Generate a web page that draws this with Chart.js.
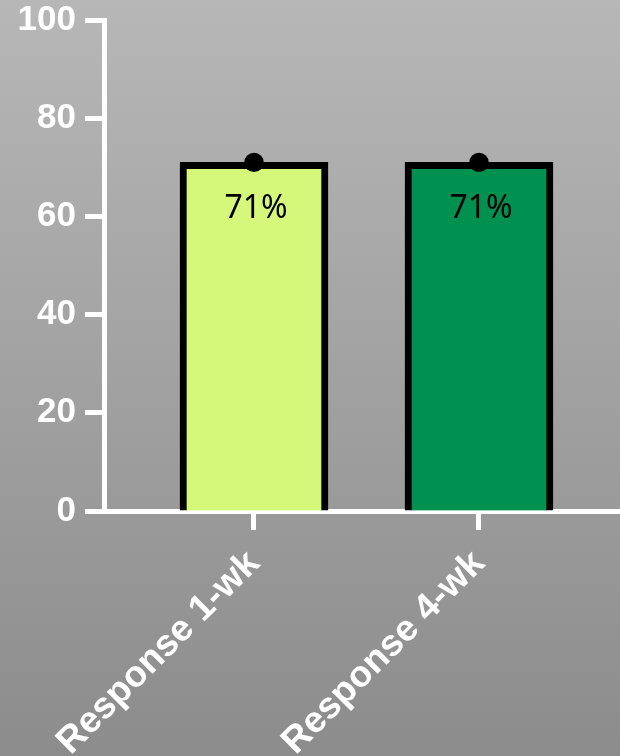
<!DOCTYPE html>
<html><head><meta charset="utf-8">
<script src="https://cdn.jsdelivr.net/npm/chart.js@4/dist/chart.umd.min.js"></script>
<style>html,body{margin:0;padding:0;background:#a0a0a0}canvas{display:block}</style>
</head><body>
<canvas id="c" width="620" height="756"></canvas>
<script>
const categories = ['Response 1-wk', 'Response 4-wk'];
const barValues = [71, 71];
const pointValues = [71, 71];
const valueLabels = ['71%', '71%'];
const barColors = ['#d5f87a', '#009050'];
const yTicks = [0, 20, 40, 60, 80, 100];

const bgPlugin = {
  id: 'bg',
  beforeDraw(chart) {
    const ctx = chart.ctx;
    const g = ctx.createLinearGradient(0, 0, 0, chart.height);
    g.addColorStop(0, 'rgb(183,183,183)');
    g.addColorStop(1, 'rgb(140,140,140)');
    ctx.save();
    ctx.fillStyle = g;
    ctx.fillRect(0, 0, chart.width, chart.height);
    ctx.restore();
  }
};

const labelPlugin = {
  id: 'vlabels',
  afterDatasetsDraw(chart) {
    const meta = chart.getDatasetMeta(1);
    const ctx = chart.ctx;
    ctx.save();
    ctx.font = '32px "Noto Sans"';
    ctx.fillStyle = '#000';
    ctx.textAlign = 'center';
    ctx.textBaseline = 'middle';
    meta.data.forEach((el, i) => {
      ctx.fillText(valueLabels[i], el.x + 2, el.y + 47);
    });
    ctx.restore();
  }
};

const idx = categories.map((c, i) => i);

new Chart(document.getElementById('c'), {
  data: {
    datasets: [
      {
        type: 'line',
        data: idx.map(i => ({x: i, y: pointValues[i]})),
        showLine: false,
        pointRadius: 9.7,
        pointBackgroundColor: '#000',
        pointBorderColor: '#000',
        pointBorderWidth: 0,
        clip: false,
        order: 1
      },
      {
        type: 'bar',
        data: idx.map(i => ({x: i, y: barValues[i]})),
        backgroundColor: barColors,
        borderColor: '#000',
        borderWidth: 7,
        borderSkipped: 'bottom',
        barThickness: 148,
        order: 2
      }
    ]
  },
  options: {
    responsive: false,
    animation: false,
    layout: {autoPadding: false, padding: {top: 20, left: 0, right: 0, bottom: 0}},
    plugins: {legend: {display: false}, tooltip: {enabled: false}},
    scales: {
      x: {
        type: 'linear',
        min: -2 / 3,
        max: 1.6267,
        offset: false,
        afterBuildTicks(s) { s.ticks = idx.map(v => ({value: v})); },
        afterFit(s) { s.height = 245; s.paddingLeft = 0; s.paddingRight = 0; },
        ticks: {
          callback: v => categories[v],
          color: '#fff',
          font: {family: '"Liberation Sans", Arial', size: 37, weight: 'bold'},
          maxRotation: 45,
          minRotation: 45,
          padding: 12,
          autoSkip: false
        },
        grid: {offset: false, drawOnChartArea: false, drawTicks: true, tickLength: 19, tickWidth: 5, tickColor: '#fff'},
        border: {display: true, color: '#fff', width: 5}
      },
      y: {
        min: 0,
        max: 100,
        afterBuildTicks(s) { s.ticks = yTicks.map(v => ({value: v})); },
        afterFit(s) { s.width = 104; s.paddingTop = 0; s.paddingBottom = 0; },
        ticks: {
          color: '#fff',
          font: {family: '"Liberation Sans", Arial', size: 35, weight: 'bold'},
          padding: 9
        },
        grid: {drawOnChartArea: false, drawTicks: true, tickLength: 19, tickWidth: 5, tickColor: '#fff'},
        border: {display: true, color: '#fff', width: 5}
      }
    }
  },
  plugins: [bgPlugin, labelPlugin]
});
</script>
</body></html>
